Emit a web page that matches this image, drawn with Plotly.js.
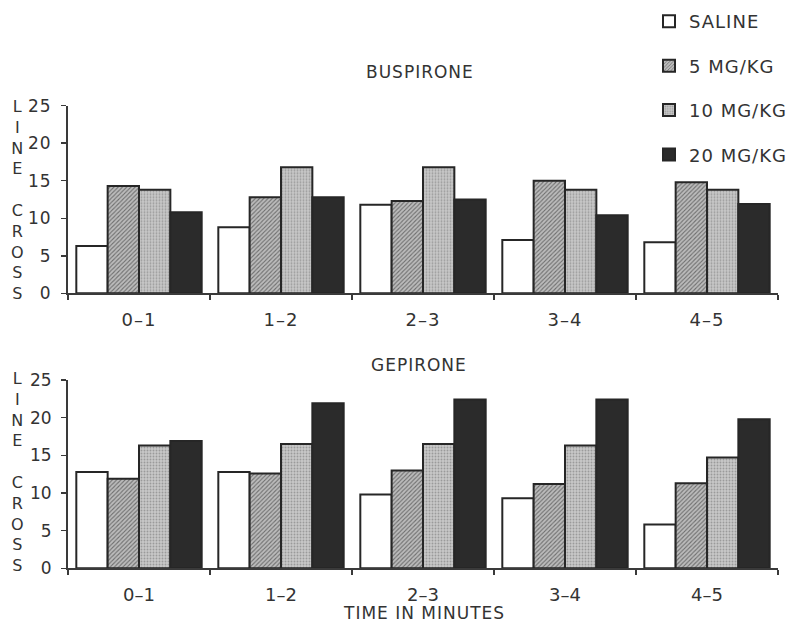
<!DOCTYPE html>
<html>
<head>
<meta charset="utf-8">
<script src="https://cdn.plot.ly/plotly-3.0.1.min.js"></script>
<style>
  body { margin: 0; padding: 0; background: #fff; }
  #chart { width: 792px; height: 623px; }
  .legendtext, .annotation-text, .xtick text, .ytick text { letter-spacing: 1px; }
</style>
</head>
<body>
<div id="chart"></div>
<script>
const categories = ["0\u20131", "1\u20132", "2\u20133", "3\u20134", "4\u20135"];
const seriesNames = ["SALINE", "5 MG/KG", "10 MG/KG", "20 MG/KG"];

// Buspirone (top panel)
const buspSaline = [6.3, 8.8, 11.8, 7.1, 6.8];
const busp5 = [14.3, 12.8, 12.3, 15.0, 14.8];
const busp10 = [13.8, 16.8, 16.8, 13.8, 13.8];
const busp20 = [10.8, 12.8, 12.5, 10.4, 11.9];

// Gepirone (bottom panel)
const gepSaline = [12.8, 12.8, 9.8, 9.3, 5.8];
const gep5 = [11.9, 12.6, 13.0, 11.2, 11.3];
const gep10 = [16.3, 16.5, 16.5, 16.3, 14.7];
const gep20 = [16.9, 21.9, 22.4, 22.4, 19.8];

const yTickVals = [0, 5, 10, 15, 20, 25];

const INK = "#262626";
const TXT = "#333333";
const FONT = "DejaVu Sans, Liberation Sans, sans-serif";

const styles = [
  { color: "#ffffff" },
  { color: "#ababab", pattern: { shape: "/", fgcolor: "#6e6e6e", bgcolor: "#bcbcbc", size: 3, solidity: 0.35 } },
  { color: "#bdbdbd", pattern: { shape: ".", fgcolor: "#9a9a9a", bgcolor: "#c8c8c8", size: 3, solidity: 0.3 } },
  { color: "#2b2b2b" }
];

function mk(vals, i, xa, ya, showLegend) {
  const st = styles[i];
  const marker = { color: st.color, line: { color: INK, width: 2 } };
  if (st.pattern) marker.pattern = st.pattern;
  return {
    type: "bar", x: categories, y: vals, name: seriesNames[i],
    xaxis: xa, yaxis: ya, marker: marker,
    legendgroup: "g" + i, showlegend: showLegend, hoverinfo: "skip"
  };
}

const data = [
  mk(buspSaline, 0, "x", "y", true),
  mk(busp5, 1, "x", "y", true),
  mk(busp10, 2, "x", "y", true),
  mk(busp20, 3, "x", "y", true),
  mk(gepSaline, 0, "x2", "y2", false),
  mk(gep5, 1, "x2", "y2", false),
  mk(gep10, 2, "x2", "y2", false),
  mk(gep20, 3, "x2", "y2", false)
];

const H = 623;
function pd(px) { return (H - px) / H; }

function xAxis(anchor) {
  return {
    anchor: anchor, domain: [0, 1], type: "category",
    range: [-0.5, 4.5], showgrid: false, zeroline: false,
    showline: true, linecolor: "#3a3a3a", linewidth: 2,
    ticks: "outside", ticklen: 5, tickwidth: 1.5, tickcolor: "#3a3a3a",
    tickson: "boundaries", ticklabelstandoff: 9,
    tickfont: { family: FONT, size: 18, color: TXT }, automargin: false, fixedrange: true
  };
}
function yAxis(anchor, dom) {
  return {
    anchor: anchor, domain: dom, range: [0, 25], tickvals: yTickVals,
    showgrid: false, zeroline: false, showline: true, linecolor: "#3a3a3a", linewidth: 2,
    ticks: "outside", ticklen: 5, tickwidth: 1.5, tickcolor: "#3a3a3a",
    ticklabelstandoff: 6,
    tickfont: { family: FONT, size: 17, color: TXT }, automargin: false, fixedrange: true
  };
}

const vtitle = "L<br>I<br>N<br>E<br><br>C<br>R<br>O<br>S<br>S";

const layout = {
  width: 792, height: 623,
  margin: { l: 68, r: 13, t: 0, b: 0 },
  paper_bgcolor: "#ffffff", plot_bgcolor: "#ffffff",
  barmode: "group", bargap: 0.117, bargroupgap: 0,
  showlegend: true,
  legend: {
    x: 0.818, y: 0.995, xanchor: "left", yanchor: "top",
    traceorder: "grouped", tracegroupgap: 18,
    font: { family: FONT, size: 18, color: TXT },
    bgcolor: "rgba(0,0,0,0)"
  },
  xaxis: xAxis("y"),
  yaxis: yAxis("x", [pd(293.3), pd(105.7)]),
  xaxis2: xAxis("y2"),
  yaxis2: yAxis("x2", [pd(568.3), pd(380)]),
  annotations: [
    { text: "BUSPIRONE", xref: "paper", yref: "paper", x: (420 - 68) / 711, y: pd(72),
      xanchor: "center", yanchor: "middle", showarrow: false, font: { family: FONT, size: 17, color: TXT } },
    { text: "GEPIRONE", xref: "paper", yref: "paper", x: (419 - 68) / 711, y: pd(365),
      xanchor: "center", yanchor: "middle", showarrow: false, font: { family: FONT, size: 17, color: TXT } },
    { text: "TIME IN MINUTES", xref: "paper", yref: "paper", x: (425 - 68) / 711, y: pd(613),
      xanchor: "center", yanchor: "middle", showarrow: false, font: { family: FONT, size: 17, color: TXT } },
    { text: vtitle, xref: "paper", yref: "paper", x: (18 - 68) / 711, y: pd(200),
      xanchor: "center", yanchor: "middle", showarrow: false, font: { family: FONT, size: 16, color: TXT } },
    { text: vtitle, xref: "paper", yref: "paper", x: (18 - 68) / 711, y: pd(472),
      xanchor: "center", yanchor: "middle", showarrow: false, font: { family: FONT, size: 16, color: TXT } }
  ]
};

Plotly.newPlot("chart", data, layout, { displayModeBar: false, staticPlot: true });
</script>
</body>
</html>
